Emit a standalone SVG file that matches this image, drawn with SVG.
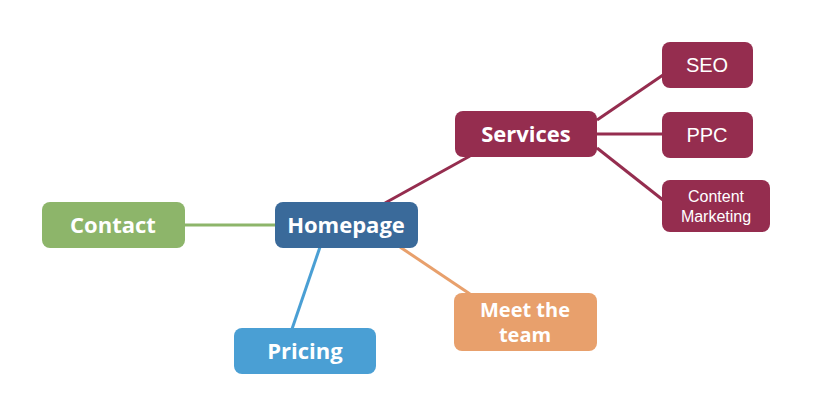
<svg xmlns="http://www.w3.org/2000/svg" width="840" height="420" viewBox="0 0 840 420">
<style>
.b{font-family:"Open Sans","Liberation Sans",sans-serif;font-weight:bold;font-size:22px;fill:#fff;text-anchor:middle}
.s{font-family:"Liberation Sans","Open Sans",sans-serif;font-size:20px;fill:#fff;text-anchor:middle}
.c{fill:none;stroke-width:3}
</style>
<rect width="840" height="420" fill="#fff"/>
<g id="connectors">
<line class="c" x1="185" y1="225" x2="275" y2="225" stroke="#8db56a"/>
<line class="c" x1="385" y1="203" x2="470" y2="156" stroke="#952d4f"/>
<line class="c" x1="400" y1="247" x2="470" y2="294" stroke="#e8a06c"/>
<line class="c" x1="320" y1="247" x2="292" y2="329" stroke="#4a9fd4"/>
<line class="c" x1="597" y1="120" x2="663" y2="75" stroke="#952d4f"/>
<line class="c" x1="597" y1="134" x2="663" y2="134" stroke="#952d4f"/>
<line class="c" x1="597" y1="148" x2="663" y2="200" stroke="#952d4f"/>
</g>
<g id="contact"><rect x="42" y="202" width="143" height="46" rx="8" fill="#8db56a"/><text class="b" x="113" y="233">Contact</text></g>
<g id="homepage"><rect x="275" y="202" width="143" height="46" rx="8" fill="#3a6a9a"/><text class="b" x="346" y="233">Homepage</text></g>
<g id="services"><rect x="455" y="111" width="142" height="46" rx="8" fill="#952d4f"/><text class="b" x="526" y="142">Services</text></g>
<g id="seo"><rect x="662" y="42" width="91" height="46" rx="8" fill="#952d4f"/><text class="s" x="707" y="72">SEO</text></g>
<g id="ppc"><rect x="662" y="112" width="91" height="46" rx="8" fill="#952d4f"/><text class="s" x="707" y="142">PPC</text></g>
<g id="content"><rect x="662" y="180" width="108" height="52" rx="8" fill="#952d4f"/><text class="s" x="716" y="202" style="font-size:16px">Content</text><text class="s" x="716" y="222" style="font-size:16px">Marketing</text></g>
<g id="meet"><rect x="454" y="293" width="143" height="58" rx="8" fill="#e8a06c"/><text class="b" x="525" y="317" style="font-size:20px">Meet the</text><text class="b" x="525" y="342" style="font-size:20px">team</text></g>
<g id="pricing"><rect x="234" y="328" width="142" height="46" rx="8" fill="#4a9fd4"/><text class="b" x="305" y="359">Pricing</text></g>
</svg>
